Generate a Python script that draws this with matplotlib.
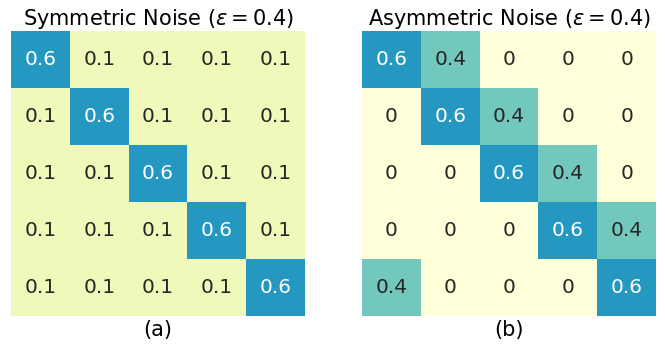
import numpy as np
import matplotlib
matplotlib.use("Agg")
import matplotlib.pyplot as plt

sym_values = [
    [0.6, 0.1, 0.1, 0.1, 0.1],
    [0.1, 0.6, 0.1, 0.1, 0.1],
    [0.1, 0.1, 0.6, 0.1, 0.1],
    [0.1, 0.1, 0.1, 0.6, 0.1],
    [0.1, 0.1, 0.1, 0.1, 0.6],
]
asym_values = [
    [0.6, 0.4, 0, 0, 0],
    [0, 0.6, 0.4, 0, 0],
    [0, 0, 0.6, 0.4, 0],
    [0, 0, 0, 0.6, 0.4],
    [0.4, 0, 0, 0, 0.6],
]
titles = [r"Symmetric Noise ($\varepsilon = 0.4$)", r"Asymmetric Noise ($\varepsilon = 0.4$)"]
labels = ["(a)", "(b)"]

fig = plt.figure(figsize=(6.65, 3.47), dpi=100)
axes = [fig.add_axes([11/665, 31/347, 294/665, 285/347]),
        fig.add_axes([362/665, 31/347, 294/665, 285/347])]

cmap = plt.get_cmap("YlGnBu")
for ax, data, title, lab in zip(axes, [sym_values, asym_values], titles, labels):
    arr = np.array(data, dtype=float)
    ax.imshow(arr, cmap=cmap, vmin=0, vmax=1, aspect="auto")
    for i in range(arr.shape[0]):
        for j in range(arr.shape[1]):
            v = arr[i, j]
            txt = "0" if v == 0 else f"{v:g}"
            color = "white" if v > 0.5 else "#262626"
            ax.text(j, i, txt, ha="center", va="center", fontsize=14.5, color=color)
    ax.set_xticks([])
    ax.set_yticks([])
    for s in ax.spines.values():
        s.set_visible(False)
    ax.set_title(title, fontsize=15, pad=4)
    ax.set_xlabel(lab, fontsize=15, labelpad=3)

fig.savefig("out.png", dpi=100)
